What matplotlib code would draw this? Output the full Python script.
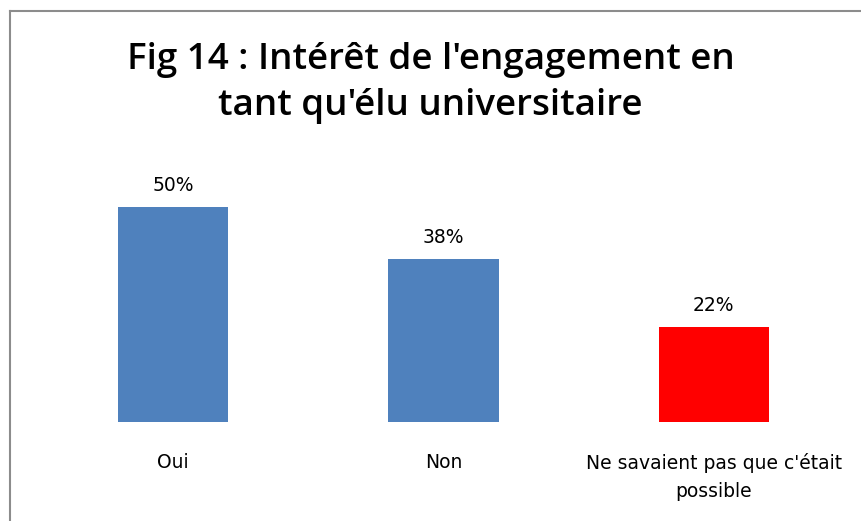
import matplotlib.pyplot as plt

categories = ["Oui", "Non", "Ne savaient pas que c'était\npossible"]
values = [50, 38, 22]
labels = ["50%", "38%", "22%"]
colors = ["#4F81BD", "#4F81BD", "#FF0000"]

fig = plt.figure(figsize=(8.61, 5.21), dpi=100)

# frame around chart area (only top and left edges visible in the crop)
fig.add_artist(plt.Line2D([10/861, 10/861], [0, 1 - 11/521], color="#8c8c8c", lw=1.5))
fig.add_artist(plt.Line2D([10/861, 1], [1 - 11/521, 1 - 11/521], color="#8c8c8c", lw=1.5))

fig.text(0.5, 1 - 60/521, "Fig 14 : Intérêt de l'engagement en", ha="center", va="center",
         fontsize=26.5, fontweight="semibold", family="Open Sans")
fig.text(0.5, 1 - 106/521, "tant qu'élu universitaire", ha="center", va="center",
         fontsize=26.5, fontweight="semibold", family="Open Sans")

ax = fig.add_axes([38/861, 1 - 422/521, (849 - 38)/861, (422 - 164)/521])
x = range(len(categories))
ax.bar(x, values, width=0.407, color=colors)
for i, v in enumerate(values):
    ax.text(i, v + 2.8, labels[i], ha="center", va="bottom", fontsize=13.5)

ax.set_xlim(-0.5, 2.5)
ax.set_ylim(0, 60)
ax.set_xticks(list(x))
ax.set_xticklabels(categories, fontsize=13.5, linespacing=1.6, va="top")
ax.tick_params(axis="x", length=0, pad=22)
ax.set_yticks([])
for s in ax.spines.values():
    s.set_visible(False)

plt.savefig("out.png")
